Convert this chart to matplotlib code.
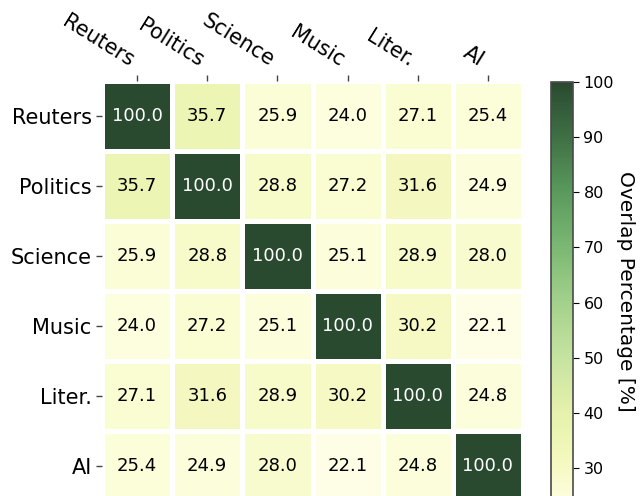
import numpy as np
import matplotlib
matplotlib.use("Agg")
import matplotlib.pyplot as plt
from matplotlib.colors import LinearSegmentedColormap

# domains and pairwise overlap (%)
labels = ['Reuters', 'Politics', 'Science', 'Music', 'Liter.', 'AI']
overlap = np.array([
    [100.0, 35.7, 25.9, 24.0, 27.1, 25.4],
    [35.7, 100.0, 28.8, 27.2, 31.6, 24.9],
    [25.9, 28.8, 100.0, 25.1, 28.9, 28.0],
    [24.0, 27.2, 25.1, 100.0, 30.2, 22.1],
    [27.1, 31.6, 28.9, 30.2, 100.0, 24.8],
    [25.4, 24.9, 28.0, 22.1, 24.8, 100.0],
])
vmin, vmax = 24.0, 100.0

# colour ramp
stops = [24, 30, 35, 40, 50, 60, 70, 80, 90, 100]
stop_cols = ['#fdfede', '#f6f9c4', '#eef6b5', '#e5f1ac', '#c6e3a0',
             '#a3d18c', '#7bb873', '#5a9a5c', '#3f7045', '#2a4a30']
cmap = LinearSegmentedColormap.from_list(
    'overlap', [((s - vmin) / (vmax - vmin), c) for s, c in zip(stops, stop_cols)])
cmap.set_under('#fefee6')

fig = plt.figure(figsize=(6.4, 4.96), dpi=100)
ax = fig.add_axes([102/640, -5/496, 421/640, 420/496])
cax = fig.add_axes([551/640, -5/496, 22/640, 419/496])

n = len(labels)
mesh = ax.pcolormesh(np.arange(n + 1), np.arange(n + 1), overlap, cmap=cmap,
                     vmin=vmin, vmax=vmax, edgecolors='white', linewidth=2.2)
ax.set_xlim(0, n)
ax.set_ylim(n, 0)
for s in ax.spines.values():
    s.set_visible(False)

for i in range(n):
    for j in range(n):
        v = overlap[i, j]
        ax.text(j + 0.5, i + 0.5, '%.1f' % v, ha='center', va='center',
                fontsize=13, color='white' if v > 70 else 'black')

ax.xaxis.tick_top()
ax.set_xticks(np.arange(n) + 0.5)
ax.set_xticklabels(labels, fontsize=15, rotation=-32, ha='right', va='bottom')
ax.set_yticks(np.arange(n) + 0.5)
ax.set_yticklabels(labels, fontsize=15)
ax.tick_params(length=4, width=1, color='#444444')

cb = fig.colorbar(mesh, cax=cax)
cb.set_ticks([30, 40, 50, 60, 70, 80, 90, 100])
cb.ax.tick_params(labelsize=11.5, length=4)
cb.outline.set_edgecolor('#4a4a4a')
cb.outline.set_linewidth(1.2)
cb.set_label('Overlap Percentage [%]', rotation=270, fontsize=14.5, labelpad=15)

fig.savefig('out.png', dpi=100)
